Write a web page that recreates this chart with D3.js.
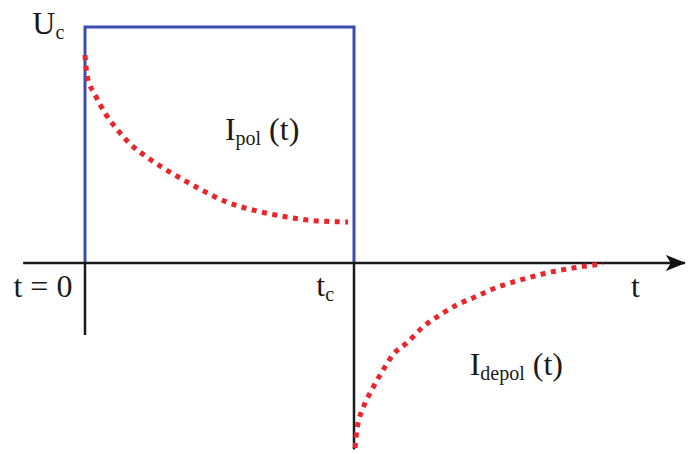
<!DOCTYPE html>
<html>
<head>
<meta charset="utf-8">
<script src="https://cdn.jsdelivr.net/npm/d3@7"></script>
<style>
  html, body { margin: 0; padding: 0; background: #fff; }
  text { font-family: "Liberation Serif", "DejaVu Serif", serif; fill: #1a1a1a; }
</style>
</head>
<body>
<div id="chart"></div>
<script>
// Polarization current, t in arbitrary units, tc = 5
const polT = [0, 0.04, 0.19, 0.37, 0.59, 0.84, 1.15, 1.45, 1.77, 2.10, 2.64, 3.20, 3.75, 4.31, 4.89];
const polV = [0.881, 0.792, 0.712, 0.636, 0.568, 0.504, 0.449, 0.403, 0.360, 0.318, 0.258, 0.220, 0.195, 0.178, 0.174];

// Depolarization current after the voltage is removed
const depolT = [5.02, 5.06, 5.17, 5.33, 5.52, 5.72, 6.00, 6.28, 6.60, 6.91, 7.25, 7.58, 8.09, 8.59, 9.07, 9.63];
const depolV = [-0.784, -0.699, -0.614, -0.538, -0.462, -0.390, -0.335, -0.271, -0.220, -0.178, -0.144, -0.110, -0.072, -0.042, -0.021, -0.004];

// Charging voltage step: 0 -> Uc at t = 0, back to 0 at tc
const tc = 5;
const Uc = 1;
const tStart = -1.15, tEnd = 11.15;

const width = 700;
const height = 454;

const x = d3.scaleLinear().domain([0, tc]).range([85, 354]);
const y = d3.scaleLinear().domain([0, Uc]).range([263, 27]);

const svg = d3.select("#chart")
    .append("svg")
    .attr("width", width)
    .attr("height", height);

svg.append("rect")
    .attr("width", width)
    .attr("height", height)
    .attr("fill", "#fff");

// arrow head for the time axis
svg.append("defs").append("marker")
    .attr("id", "arrow")
    .attr("viewBox", "0 0 20 16")
    .attr("refX", 19)
    .attr("refY", 8)
    .attr("markerWidth", 20)
    .attr("markerHeight", 16)
    .attr("markerUnits", "userSpaceOnUse")
    .attr("orient", "auto")
    .append("path")
    .attr("d", "M0,0 L20,8 L0,16 L5,8 Z")
    .attr("fill", "#111");

// black lines below the axis at t = 0 and tc
svg.append("line")
    .attr("x1", x(0)).attr("x2", x(0))
    .attr("y1", y(0)).attr("y2", y(-0.305))
    .attr("stroke", "#1a1a1a")
    .attr("stroke-width", 2.5);

svg.append("line")
    .attr("x1", x(tc)).attr("x2", x(tc))
    .attr("y1", y(0)).attr("y2", y(-0.79))
    .attr("stroke", "#1a1a1a")
    .attr("stroke-width", 2.5);

// voltage pulse
const pulse = [[0, 0], [0, Uc], [tc, Uc], [tc, 0]];
svg.append("path")
    .attr("d", d3.line().x(d => x(d[0])).y(d => y(d[1]))(pulse))
    .attr("fill", "none")
    .attr("stroke", "#3b4cb2")
    .attr("stroke-width", 3);

// time axis
svg.append("line")
    .attr("x1", x(tStart)).attr("x2", x(tEnd))
    .attr("y1", y(0)).attr("y2", y(0))
    .attr("stroke", "#1a1a1a")
    .attr("stroke-width", 2.5)
    .attr("marker-end", "url(#arrow)");

// current curves, red dotted
const curve = d3.line()
    .x(d => x(d[0]))
    .y(d => y(d[1]))
    .curve(d3.curveMonotoneX);

[[polT, polV], [depolT, depolV]].forEach(([ts, vs]) => {
    svg.append("path")
        .attr("d", curve(ts.map((t, i) => [t, vs[i]])))
        .attr("fill", "none")
        .attr("stroke", "#e8262b")
        .attr("stroke-width", 5)
        .attr("stroke-dasharray", "5,5.5");
});

// labels
function label(tx, vy, main, sub, rest) {
    const t = svg.append("text")
        .attr("x", x(tx))
        .attr("y", y(vy))
        .attr("font-size", "32px");
    t.append("tspan").text(main);
    if (sub) {
        t.append("tspan")
            .attr("font-size", "20px")
            .attr("dy", "5")
            .text(sub);
    }
    if (rest) {
        t.append("tspan")
            .attr("dy", sub ? "-5" : "0")
            .text(rest);
    }
}

label(-0.98, 0.97, "U", "c");
label(-1.33, -0.145, "t = 0");
label(4.3, -0.14, "t", "c");
label(10.15, -0.145, "t");
label(2.6, 0.52, "I", "pol", " (t)");
label(7.15, -0.475, "I", "depol", " (t)");
</script>
</body>
</html>
